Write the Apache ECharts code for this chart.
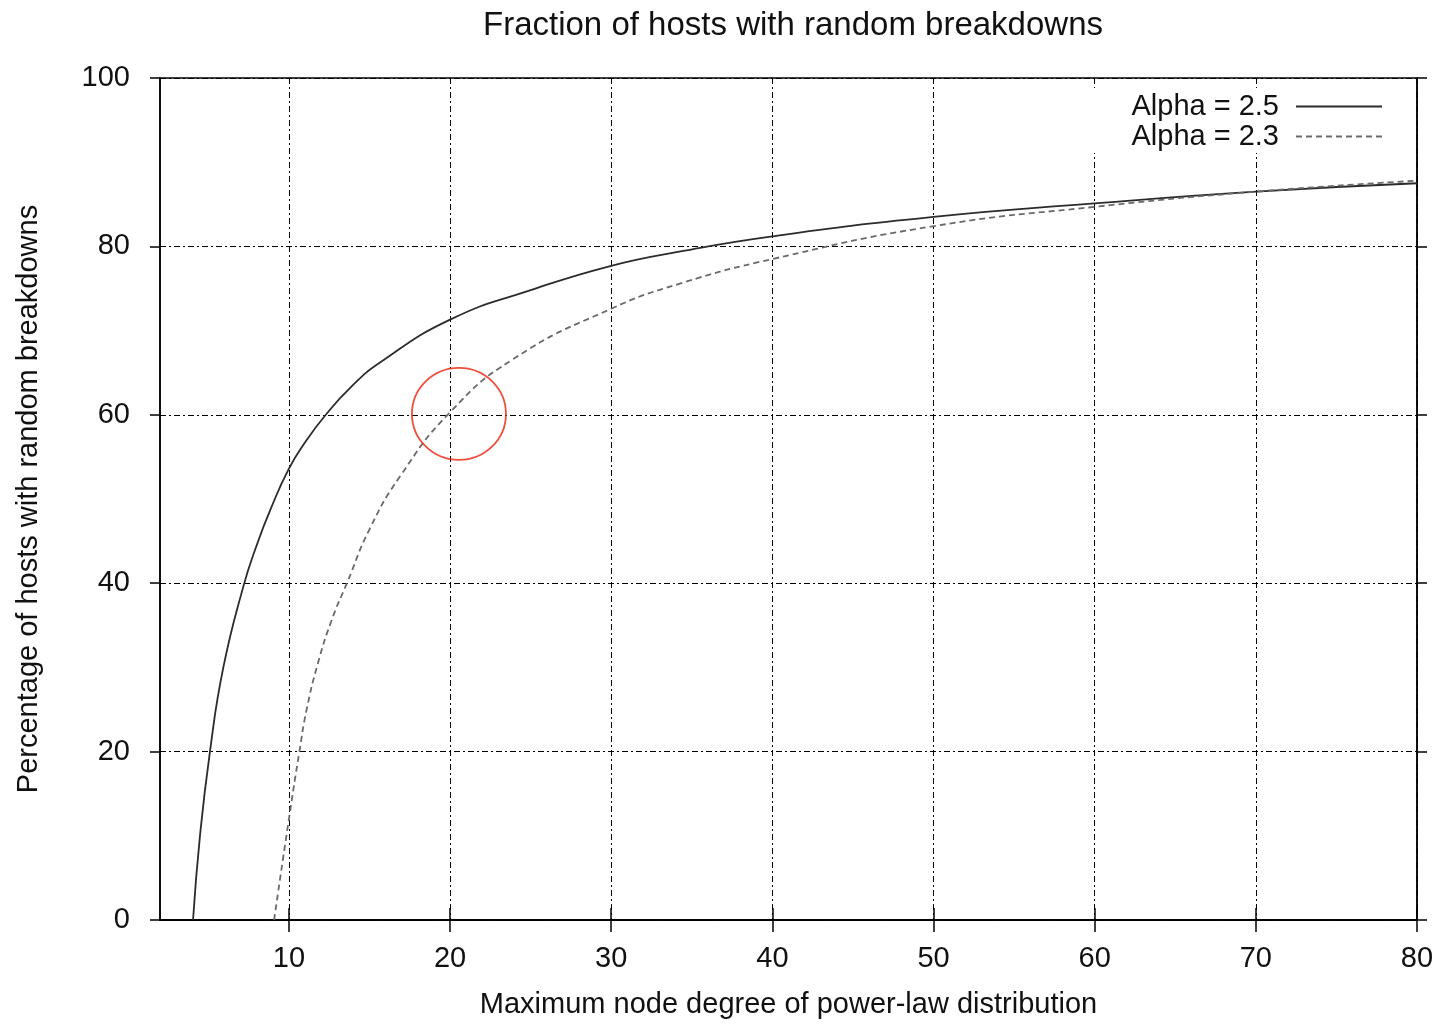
<!DOCTYPE html>
<html><head><meta charset="utf-8">
<script src="https://cdn.jsdelivr.net/npm/echarts@6/dist/echarts.min.js"></script>
<style>html,body{margin:0;padding:0;background:#fff}#c{width:1443px;height:1024px}</style>
</head><body><div id="c"></div>
<script>
const titleText = 'Fraction of hosts with random breakdowns';
const xName = 'Maximum node degree of power-law distribution';
const yName = 'Percentage of hosts with random breakdowns';
const xTicks = [10, 20, 30, 40, 50, 60, 70, 80];
const seriesNames = ['Alpha = 2.5', 'Alpha = 2.3'];
const alpha25 = [[4.05,0],[4.48,10],[5.1,20],[5.93,30],[7.2,39.8],[8.0,44.5],[8.8,48.5],[10,53.6],[11.1,57],[12.2,59.8],[13.8,63.2],[15.65,66.2],[20,71.3],[25,74.8],[30,77.7],[34.3,79.4],[40,81.2],[50,83.5],[60,85.1],[70,86.5],[80,87.5]];
const alpha23 = [[9.08,0],[10,12],[10.65,20],[11.1,25],[11.8,30.5],[12.65,35.6],[13.6,40],[15,46.4],[16.9,52.7],[20,60.3],[23.9,66.6],[30,72.6],[34.3,75.6],[40,78.5],[50,82.4],[60,84.7],[70,86.5],[80,87.8]];
const marked = [[20.55, 60.1]];

const FONT = 'Liberation Sans, Arial, sans-serif';
const gridLine = { show: true, lineStyle: { color: '#000', width: 1, type: [6, 3, 2, 3] } };
const chart = echarts.init(document.getElementById('c'), null, { renderer: 'canvas' });
chart.setOption({
  backgroundColor: '#fff',
  animation: false,
  title: {
    text: titleText, left: 788, top: 4, textAlign: 'center',
    textStyle: { fontFamily: FONT, fontSize: 33, fontWeight: 'normal', color: '#111' }
  },
  legend: {
    data: seriesNames, orient: 'vertical', right: 32, top: 88, align: 'right',
    itemWidth: 86, itemHeight: 14, itemGap: 1,
    backgroundColor: '#fff', padding: [4, 28, 2, 38],
    itemStyle: { color: 'rgba(0,0,0,0)', borderWidth: 0 },
    textStyle: { fontFamily: FONT, fontSize: 29, color: '#111', lineHeight: 28, padding: [0, 12, 0, 0] }
  },
  grid: { left: 160, top: 78, right: 26, bottom: 103, show: true, borderColor: '#000', borderWidth: 1.5 },
  xAxis: [{
    type: 'value', min: 2, max: 80,
    name: xName, nameLocation: 'middle', nameGap: 70,
    nameTextStyle: { fontFamily: FONT, fontSize: 29, color: '#111' },
    axisLine: { show: true, lineStyle: { color: '#000', width: 1.5 } },
    axisTick: { show: true, inside: false, length: 12, customValues: xTicks, lineStyle: { color: '#000', width: 1.5 } },
    axisLabel: { customValues: xTicks, margin: 24, fontFamily: FONT, fontSize: 29, color: '#111' },
    splitLine: gridLine
  }, {
    type: 'value', min: 2, max: 80, position: 'top',
    axisLine: { show: true, lineStyle: { color: '#000', width: 1.5 } },
    axisTick: { show: true, inside: false, length: 12, customValues: xTicks, lineStyle: { color: '#000', width: 1.5 } },
    axisLabel: { show: false, customValues: xTicks },
    splitLine: { show: false }
  }],
  yAxis: [{
    type: 'value', min: 0, max: 100, interval: 20,
    name: yName, nameLocation: 'middle', nameGap: 117,
    nameTextStyle: { fontFamily: FONT, fontSize: 29, color: '#111' },
    axisLine: { show: true, lineStyle: { color: '#000', width: 1.5 } },
    axisTick: { show: true, inside: false, length: 10, lineStyle: { color: '#000', width: 1.5 } },
    axisLabel: { margin: 30, fontFamily: FONT, fontSize: 29, color: '#111' },
    splitLine: gridLine
  }, {
    type: 'value', min: 0, max: 100, interval: 20, position: 'right',
    axisLine: { show: true, lineStyle: { color: '#000', width: 1.5 } },
    axisTick: { show: true, inside: false, length: 10, lineStyle: { color: '#000', width: 1.5 } },
    axisLabel: { show: false },
    splitLine: { show: false }
  }],
  series: [{
    name: seriesNames[0], type: 'line', data: alpha25, showSymbol: false, symbol: 'none',
    smooth: 0.5,
    lineStyle: { color: '#2b2b2b', width: 1.8, type: 'solid' },
    itemStyle: { color: '#111' }, z: 3
  }, {
    name: seriesNames[1], type: 'line', data: alpha23, showSymbol: false, symbol: 'none',
    smooth: 0.5,
    lineStyle: { color: '#6a6a6a', width: 1.8, type: [6, 4] },
    itemStyle: { color: '#111' }, z: 3
  }, {
    name: 'marker', type: 'scatter', data: marked, symbol: 'circle', symbolSize: [94, 92],
    silent: true, z: 4,
    itemStyle: { color: 'rgba(0,0,0,0)', borderColor: '#e8240c', borderWidth: 1.8 }
  }]
});
</script></body></html>
